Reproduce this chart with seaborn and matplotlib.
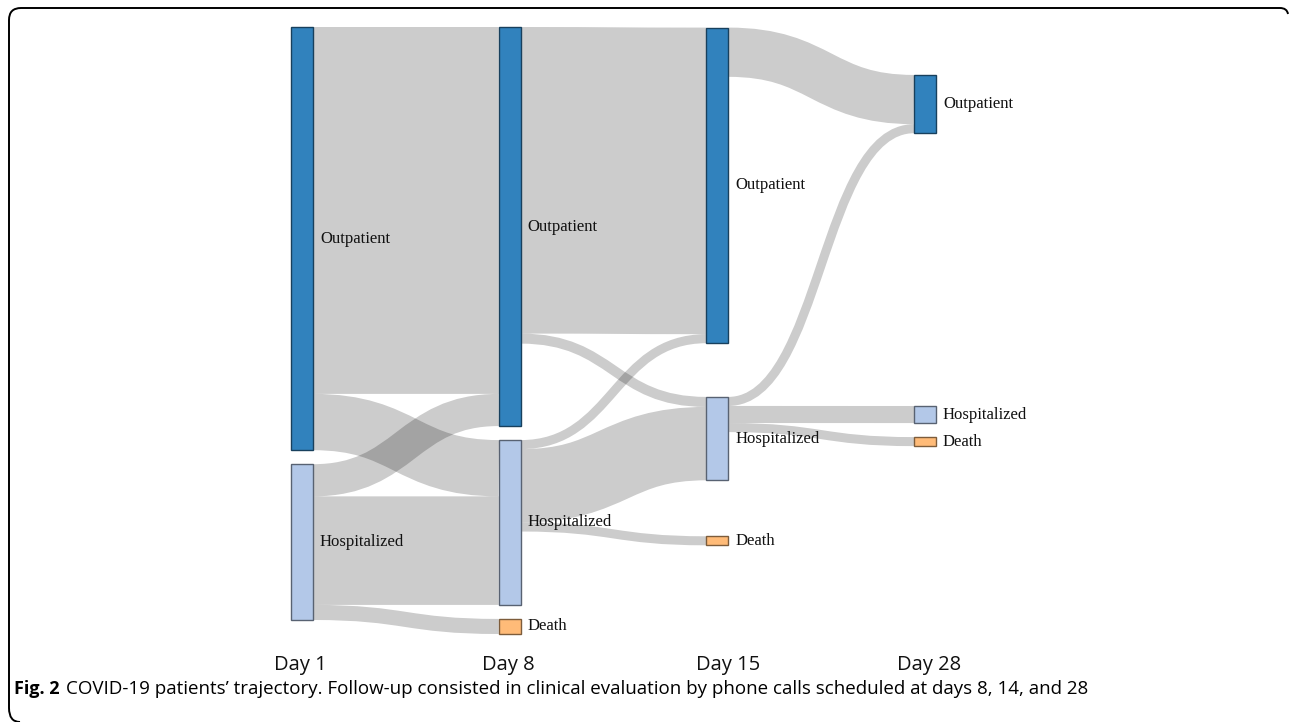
import numpy as np
import matplotlib
matplotlib.use('Agg')
import matplotlib.pyplot as plt
import seaborn as sns
from matplotlib.patches import Rectangle, PathPatch
from matplotlib.path import Path

# datos: nodos (dia, estado) y flujos entre ellos (pacientes, escala aproximada)
dias = ['Day 1', 'Day 8', 'Day 15', 'Day 28']
estados = ['Outpatient', 'Hospitalized', 'Death']
nodos_dia = [0, 0, 1, 1, 1, 2, 2, 2, 3, 3, 3]
nodos_estado = ['Outpatient', 'Hospitalized',
                'Outpatient', 'Hospitalized', 'Death',
                'Outpatient', 'Hospitalized', 'Death',
                'Outpatient', 'Hospitalized', 'Death']
flujo_origen = [0, 0, 1, 1, 1, 2, 2, 3, 3, 3, 5, 6, 6, 6]
flujo_destino = [2, 3, 2, 3, 4, 5, 6, 5, 6, 7, 8, 8, 9, 10]
flujo_valor = [365, 56, 32, 108, 15, 305, 10, 9, 73, 9, 49, 9, 17, 9]

colores = {'Outpatient': '#3182bd', 'Hospitalized': '#b3c8e8', 'Death': '#ffbb78'}

sns.set_theme(style='white')

# ---------- layout tipo d3-sankey ----------
X0, X1, Y0, Y1 = 291, 936, 27, 634
DX, PY = 22, 14
ITER = 64

n = len(nodos_dia)
nodes = [dict(i=i, layer=nodos_dia[i], src=[], tgt=[]) for i in range(n)]
links = []
for k, (s, t, v) in enumerate(zip(flujo_origen, flujo_destino, flujo_valor)):
    l = dict(i=k, s=nodes[s], t=nodes[t], v=v)
    links.append(l)
    nodes[s]['src'].append(l)
    nodes[t]['tgt'].append(l)
for nd in nodes:
    nd['value'] = max(sum(l['v'] for l in nd['src']), sum(l['v'] for l in nd['tgt']))

ncol = max(nodos_dia) + 1
kx = (X1 - X0 - DX) / (ncol - 1)
for nd in nodes:
    nd['x0'] = X0 + nd['layer'] * kx
    nd['x1'] = nd['x0'] + DX
columns = [[nd for nd in nodes if nd['layer'] == c] for c in range(ncol)]

ky = min((Y1 - Y0 - (len(c) - 1) * PY) / sum(nd['value'] for nd in c) for c in columns)


def reorder_links(ns):
    for nd in ns:
        nd['src'].sort(key=lambda l: (l['t']['y0'], l['i']))
        nd['tgt'].sort(key=lambda l: (l['s']['y0'], l['i']))


def reorder_node_links(nd):
    for l in nd['tgt']:
        l['s']['src'].sort(key=lambda q: (q['t']['y0'], q['i']))
    for l in nd['src']:
        l['t']['tgt'].sort(key=lambda q: (q['s']['y0'], q['i']))


for c in columns:
    y = Y0
    for nd in c:
        nd['y0'] = y
        nd['y1'] = y + nd['value'] * ky
        y = nd['y1'] + PY
        for l in nd['src']:
            l['w'] = l['v'] * ky
    y = (Y1 - y + PY) / (len(c) + 1)
    for i, nd in enumerate(c):
        nd['y0'] += y * (i + 1)
        nd['y1'] += y * (i + 1)
for c in columns:
    reorder_links(c)


def target_top(s, t):
    y = s['y0'] - (len(s['src']) - 1) * PY / 2
    for l in s['src']:
        if l['t'] is t:
            break
        y += l['w'] + PY
    for l in t['tgt']:
        if l['s'] is s:
            break
        y -= l['w']
    return y


def source_top(s, t):
    y = t['y0'] - (len(t['tgt']) - 1) * PY / 2
    for l in t['tgt']:
        if l['s'] is s:
            break
        y += l['w'] + PY
    for l in s['src']:
        if l['t'] is t:
            break
        y -= l['w']
    return y


def top_to_bottom(ns, y, i, a):
    for nd in ns[i:]:
        dy = (y - nd['y0']) * a
        if dy > 1e-6:
            nd['y0'] += dy
            nd['y1'] += dy
        y = nd['y1'] + PY


def bottom_to_top(ns, y, i, a):
    for j in range(i, -1, -1):
        nd = ns[j]
        dy = (nd['y1'] - y) * a
        if dy > 1e-6:
            nd['y0'] -= dy
            nd['y1'] -= dy
        y = nd['y0'] - PY


def resolve(ns, a):
    i = len(ns) >> 1
    sub = ns[i]
    bottom_to_top(ns, sub['y0'] - PY, i - 1, a)
    top_to_bottom(ns, sub['y1'] + PY, i + 1, a)
    bottom_to_top(ns, Y1, len(ns) - 1, a)
    top_to_bottom(ns, Y0, 0, a)


for it in range(ITER):
    alpha = 0.99 ** it
    beta = max(1 - alpha, (it + 1) / ITER)
    # derecha a izquierda
    for ci in range(ncol - 2, -1, -1):
        col = columns[ci]
        for s in col:
            y = w = 0
            for l in s['src']:
                v = l['v'] * (l['t']['layer'] - s['layer'])
                y += source_top(s, l['t']) * v
                w += v
            if w > 0:
                dy = (y / w - s['y0']) * alpha
                s['y0'] += dy
                s['y1'] += dy
                reorder_node_links(s)
        col.sort(key=lambda nd: nd['y0'])
        resolve(col, beta)
    # izquierda a derecha
    for ci in range(1, ncol):
        col = columns[ci]
        for t in col:
            y = w = 0
            for l in t['tgt']:
                v = l['v'] * (t['layer'] - l['s']['layer'])
                y += target_top(l['s'], t) * v
                w += v
            if w > 0:
                dy = (y / w - t['y0']) * alpha
                t['y0'] += dy
                t['y1'] += dy
                reorder_node_links(t)
        col.sort(key=lambda nd: nd['y0'])
        resolve(col, beta)

for nd in nodes:
    ya = yb = nd['y0']
    for l in nd['src']:
        l['y0'] = ya + l['w'] / 2
        ya += l['w']
    for l in nd['tgt']:
        l['y1'] = yb + l['w'] / 2
        yb += l['w']

# ---------- dibujo ----------
fig = plt.figure(figsize=(12.9, 7.22), dpi=100)
ax = fig.add_axes([0, 0, 1, 1])
ax.set_xlim(0, 1290)
ax.set_ylim(722, 0)
ax.axis('off')

px2pt = 72 / fig.dpi

for l in links:
    xs, xt = l['s']['x1'], l['t']['x0']
    xm = (xs + xt) / 2
    p = Path([(xs, l['y0']), (xm, l['y0']), (xm, l['y1']), (xt, l['y1'])],
             [Path.MOVETO, Path.CURVE4, Path.CURVE4, Path.CURVE4])
    ax.add_patch(PathPatch(p, fill=False, edgecolor=(0, 0, 0, 0.2),
                           lw=max(l['w'], 1) * px2pt, capstyle='butt', zorder=1))

for nd in nodes:
    est = nodos_estado[nd['i']]
    col = np.array(matplotlib.colors.to_rgb(colores[est]))
    ax.add_patch(Rectangle((nd['x0'], nd['y0']), DX, nd['y1'] - nd['y0'],
                           facecolor=col, edgecolor=col * 0.49, lw=1.0, zorder=2))
    ax.text(nd['x1'] + 7, (nd['y0'] + nd['y1']) / 2, est, ha='left', va='center',
            family='Liberation Serif', fontsize=12, color='#111111', zorder=3)

# etiquetas de dias
dia_x = [300, 508, 728, 929]
for d, x in zip(dias, dia_x):
    ax.text(x, 665, d, ha='center', va='center', family='Open Sans',
            fontsize=14.5, color='#111111')

# pie de figura
fig.canvas.draw()
r = fig.canvas.get_renderer()
t1 = ax.text(14, 689, 'Fig. 2', ha='left', va='center', family='Open Sans',
             fontweight='bold', fontsize=13, color='black')
bb = t1.get_window_extent(renderer=r)
x2 = bb.x1 + 6
ax.text(x2, 689, 'COVID-19 patients\u2019 trajectory. Follow-up consisted in clinical '
        'evaluation by phone calls scheduled at days 8, 14, and 28',
        ha='left', va='center', family='Open Sans', fontsize=13.5, color='black')

# marco redondeado (solo arriba e izquierda visibles)
marco = Path([(20, 722), (9, 722), (9, 708), (9, 20), (9, 8), (21, 8),
              (1280, 8), (1287, 8), (1288, 14)],
             [Path.MOVETO, Path.CURVE3, Path.CURVE3, Path.LINETO, Path.CURVE3,
              Path.CURVE3, Path.LINETO, Path.CURVE3, Path.CURVE3])
ax.add_patch(PathPatch(marco, fill=False, edgecolor='black', lw=1.4))

fig.savefig('out.png', dpi=100)
